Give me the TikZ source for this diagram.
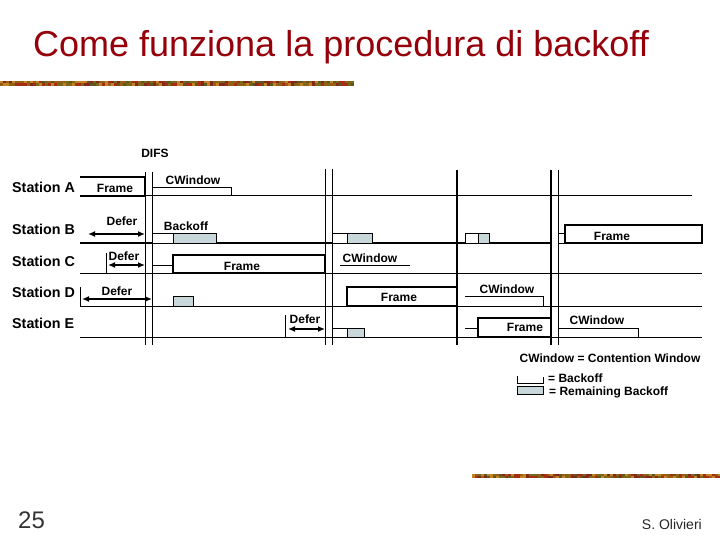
\documentclass[tikz,border=0pt]{standalone}
\usepackage{fontspec}
\setmainfont{Liberation Sans}
\usetikzlibrary{arrows.meta}
\definecolor{titlered}{RGB}{150,0,10}
\definecolor{greyfill}{RGB}{200,216,218}
\definecolor{barA}{RGB}{150,95,20}
\definecolor{barB}{RGB}{120,105,25}
\definecolor{barC}{RGB}{165,45,20}
\definecolor{barD}{RGB}{195,130,35}
\definecolor{barE}{RGB}{95,85,30}
\definecolor{barF}{RGB}{130,40,25}
\pgfmathdeclarerandomlist{barcols}{{barA}{barB}{barC}{barD}{barE}{barF}}
\begin{document}
\begin{tikzpicture}[x=1pt,y=-1pt,
  thinl/.style={line width=1pt},
  thickl/.style={line width=2.4pt},
  lbl/.style={font=\fontsize{12}{13}\selectfont\bfseries, inner sep=0pt},
  leg/.style={font=\fontsize{12}{13}\selectfont\bfseries, inner sep=0pt},
  stlbl/.style={font=\fontsize{14.3}{15}\selectfont\bfseries, anchor=base west, inner sep=0pt},
  wbox/.style={draw, line width=1pt, fill=white},
  gbox/.style={draw, line width=1pt, fill=greyfill},
  fbox/.style={draw, line width=2.4pt, fill=white},
  deferarrow/.style={line width=1.3pt, {Latex[length=7pt,width=6pt]}-{Latex[length=7pt,width=6pt]}},
]
\useasboundingbox (0,0) rectangle (720,540);
\fill[white] (0,0) rectangle (720,540);

% decorative bars
\pgfmathsetseed{7}
\foreach \i in {0,...,117}{
  \pgfmathrandomitem{\bc}{barcols}
  \fill[\bc] (\i*3,81) rectangle ++(3,2.5);
  \pgfmathrandomitem{\bc}{barcols}
  \fill[\bc] (\i*3,83.5) rectangle ++(3,2.5);
}
\foreach \i in {0,...,82}{
  \pgfmathrandomitem{\bc}{barcols}
  \fill[\bc] (472+\i*3,474) rectangle ++(3,2);
  \pgfmathrandomitem{\bc}{barcols}
  \fill[\bc] (472+\i*3,476) rectangle ++(3,2);
}

% title and footer
\node[anchor=base west, inner sep=0pt, text=titlered, font=\fontsize{36}{40}\selectfont] (title) at (33,57) {Come funziona la procedura di backoff};
\node[anchor=base west, inner sep=0pt, text=black!80, font=\fontsize{24}{26}\selectfont] (pagenum) at (18,528) {25};
\node[anchor=base east, inner sep=0pt, text=black!85, font=\fontsize{14}{15}\selectfont] (author) at (702,529) {S. Olivieri};

% station labels
\node[stlbl] (stA) at (12,193) {Station A};
\node[stlbl] (stB) at (12,235) {Station B};
\node[stlbl] (stC) at (12,266) {Station C};
\node[stlbl] (stD) at (12,297) {Station D};
\node[stlbl] (stE) at (12,328) {Station E};

% baselines
\draw[thinl] (145,196) -- (692,196);
\draw[thickl] (80,243) -- (551,243);
\draw[thinl] (558,243) -- (565,243);
\draw[thinl] (80,273) -- (702,273);
\draw[thinl] (80,306) -- (702,306);
\draw[thinl] (80,337) -- (702,337);

% Station A
\draw[thickl] (80,177) -- (145,177) -- (145,196) -- (80,196);
\node[lbl] (frA) at (115,188) {Frame};
\draw[wbox] (152,188) rectangle (231,196);
\node[lbl] (cwA) at (193,180) {CWindow};

% Station B
\coordinate (dBl) at (88,234);
\coordinate (dBr) at (145,234);
\draw[deferarrow] (dBl) -- (dBr);
\node[lbl] (dfB) at (122,221) {Defer};
\draw[wbox] (152,233) rectangle (173,243);
\draw[gbox] (173,233) rectangle (216,243);
\node[lbl] (bkB) at (186,226) {Backoff};
\draw[wbox] (332,233) rectangle (347,243);
\draw[gbox] (347,233) rectangle (372,243);
\draw[wbox] (465,233) rectangle (478,243);
\draw[gbox] (478,233) rectangle (489,243);
\draw[wbox] (558,233) rectangle (565,243);
\draw[fbox] (565,225) rectangle (702,243);
\node[lbl] (frB) at (612,236) {Frame};

% Station C
\draw[thinl] (106,253) -- (106,273);
\coordinate (dCl) at (108,265);
\coordinate (dCr) at (145,265);
\draw[deferarrow] (dCl) -- (dCr);
\node[lbl] (dfC) at (124,256) {Defer};
\draw[thinl] (152,265) -- (173,265);
\draw[fbox] (173,255) rectangle (325,273);
\node[lbl] (frC) at (242,266) {Frame};
\draw[thinl] (340,265) -- (410,265);
\node[lbl] (cwC) at (370,258) {CWindow};

% Station D
\draw[thinl] (80,287) -- (80,306);
\coordinate (dDl) at (82,299);
\coordinate (dDr) at (152,299);
\draw[deferarrow] (dDl) -- (dDr);
\node[lbl] (dfD) at (117,291) {Defer};
\draw[gbox] (173,296) rectangle (193,306);
\draw[fbox] (347,287) rectangle (457,306);
\node[lbl] (frD) at (399,297) {Frame};
\draw[thinl] (465,296) -- (543,296) -- (543,306);
\node[lbl] (cwD) at (507,289) {CWindow};

% Station E
\draw[thinl] (285,315) -- (285,337);
\coordinate (dEl) at (288,329);
\coordinate (dEr) at (325,329);
\draw[deferarrow] (dEl) -- (dEr);
\node[lbl] (dfE) at (305,319) {Defer};
\draw[thinl] (332,328) -- (347,328);
\draw[gbox] (347,328) rectangle (364,337);
\draw[thinl] (465,328) -- (478,328);
\draw[fbox] (478,318) rectangle (551,337);
\node[lbl] (frE) at (525,327) {Frame};
\draw[thinl] (558,328) -- (638,328) -- (638,337);
\node[lbl] (cwE) at (597,320) {CWindow};

% vertical time lines
\draw[thinl] (145,172) -- (145,345);
\draw[thinl] (152,172) -- (152,345);
\draw[thinl] (325,169) -- (325,345);
\draw[thinl] (332,169) -- (332,345);
\draw[line width=2.6pt] (457,170) -- (457,345);
\draw[line width=2.6pt] (551,170) -- (551,345);
\draw[thinl] (558,170) -- (558,345);
\node[lbl] (difs) at (155,153) {DIFS};

% legend
\node[leg] (legcw) at (610,358) {CWindow = Contention Window};
\draw[thinl] (517,376) -- (517,383) -- (543,383) -- (543,377);
\node[leg, anchor=west] (legbk) at (548,378) {= Backoff};
\draw[gbox] (517,386) rectangle (543,394);
\node[leg, anchor=west] (legrb) at (549,392) {= Remaining Backoff};
\end{tikzpicture}
\end{document}
